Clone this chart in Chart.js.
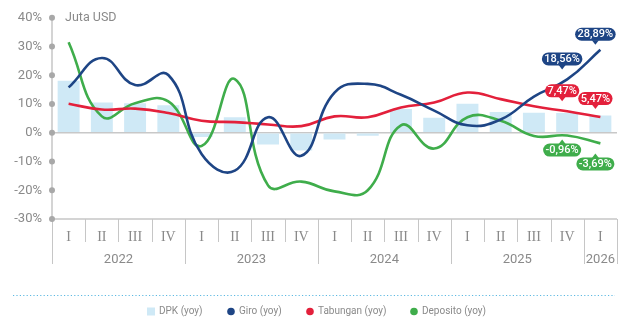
<!DOCTYPE html>
<html>
<head>
<meta charset="utf-8">
<script src="https://cdn.jsdelivr.net/npm/chart.js@4/dist/chart.umd.min.js"></script>
<style>
  html, body { margin: 0; padding: 0; background: #fff; }
  #wrap { width: 620px; height: 320px; }
</style>
</head>
<body>
<div id="wrap"><canvas id="c" width="620" height="320"></canvas></div>
<script>
// Quarterly year-on-year growth, in percent
const quarters = ['I','II','III','IV','I','II','III','IV','I','II','III','IV','I','II','III','IV','I'];
const yearLabels = ['2022','2023','2024','2025','2026'];
const yearSpans = [4, 4, 4, 4, 1];
const yTicks = [40, 30, 20, 10, 0, -10, -20, -30];

const dpk      = [18.1, 10.5, 10.3, 9.6, -1.5, 5.4, -4.1, -6.2, -2.3, -1.0, 8.3, 5.2, 10.1, 7.2, 7.0, 6.9, 6.0];
const giro     = [15.8, 26.0, 16.6, 20.1, -7.4, -13.2, 5.4, -8.0, 14.0, 17.0, 13.2, 7.7, 2.6, 4.6, 12.6, 18.56, 28.89];
const tabungan = [10.1, 8.1, 8.4, 6.9, 4.2, 3.7, 2.9, 2.3, 5.7, 5.4, 8.8, 10.5, 14.0, 11.7, 9.2, 7.47, 5.47];
const deposito = [31.5, 5.7, 10.3, 10.9, -4.6, 18.7, -18.3, -17.0, -20.4, -20.0, 2.6, -5.5, 5.4, 4.2, -1.1, -0.96, -3.69];

const SANS = "Roboto,'Liberation Sans',sans-serif";
const SERIF = "'Liberation Serif','DejaVu Serif',serif";
const GREY_TEXT = '#8a8a8a';
const AXIS = '#c6c6c6';
const C_DPK = '#cfe9f6', C_GIRO = '#1e4585', C_TAB = '#e3203b', C_DEP = '#3fad4b';

// value tags on the last two quarters: [datasetIndex, above?, gap for each point]
const tagSpecs = [
  { ds: 1, above: true,  gaps: [10, 5] },
  { ds: 2, above: true,  gaps: [10, 8] },
  { ds: 3, above: false, gaps: [4, 10] }
];

function fmtPct(v) { return v.toFixed(2).replace('.', ',') + '%'; }

function roundRect(ctx, x, y, w, h, r) {
  ctx.beginPath();
  ctx.moveTo(x + r, y);
  ctx.lineTo(x + w - r, y);
  ctx.arcTo(x + w, y, x + w, y + r, r);
  ctx.lineTo(x + w, y + h - r);
  ctx.arcTo(x + w, y + h, x + w - r, y + h, r);
  ctx.lineTo(x + r, y + h);
  ctx.arcTo(x, y + h, x, y + h - r, r);
  ctx.lineTo(x, y + r);
  ctx.arcTo(x, y, x + r, y, r);
  ctx.closePath();
}

function drawTag(ctx, cx, tipY, text, color, above) {
  ctx.font = '500 11px ' + SANS;
  const w = ctx.measureText(text).width + 5, h = 13;
  const boxY = above ? tipY - 4 - h : tipY + 4;
  ctx.fillStyle = color;
  roundRect(ctx, cx - w / 2, boxY, w, h, 6.5);
  ctx.fill();
  ctx.beginPath();
  if (above) {
    ctx.moveTo(cx - 3.5, boxY + h - 0.5);
    ctx.lineTo(cx + 3.5, boxY + h - 0.5);
  } else {
    ctx.moveTo(cx - 3.5, boxY + 0.5);
    ctx.lineTo(cx + 3.5, boxY + 0.5);
  }
  ctx.lineTo(cx, tipY);
  ctx.closePath();
  ctx.fill();
  ctx.fillStyle = '#fff';
  ctx.textAlign = 'center';
  ctx.textBaseline = 'middle';
  ctx.fillText(text, cx, boxY + h / 2 + 0.5);
}

const decor = {
  id: 'decor',
  beforeDatasetsDraw(chart) {
    const ctx = chart.ctx, xs = chart.scales.x, ys = chart.scales.y, a = chart.chartArea;
    ctx.save();
    ctx.strokeStyle = AXIS;
    ctx.lineWidth = 1.5;
    // bottom edge of plot
    ctx.beginPath();
    ctx.moveTo(a.left, a.bottom);
    ctx.lineTo(a.right, a.bottom);
    ctx.stroke();
    // category separators, deeper at year boundaries
    const step = xs.getPixelForValue(1) - xs.getPixelForValue(0);
    const yearBounds = [0];
    yearSpans.forEach(s => yearBounds.push(yearBounds[yearBounds.length - 1] + s));
    ctx.lineWidth = 1;
    for (let k = 0; k <= quarters.length; k++) {
      const px = Math.round(xs.getPixelForValue(0) - step / 2 + k * step) + 0.5;
      const deep = yearBounds.includes(k);
      ctx.beginPath();
      ctx.moveTo(px, a.bottom);
      ctx.lineTo(px, a.bottom + (deep ? 45 : 23));
      ctx.stroke();
    }
    // vertical axis
    ctx.lineWidth = 1.5;
    ctx.beginPath();
    ctx.moveTo(a.left, ys.getPixelForValue(40));
    ctx.lineTo(a.left, a.bottom);
    ctx.stroke();
    // tick dots
    ctx.fillStyle = '#a8a8a8';
    yTicks.forEach(v => {
      ctx.beginPath();
      ctx.arc(a.left, ys.getPixelForValue(v), 3, 0, Math.PI * 2);
      ctx.fill();
    });
    // quarter labels
    ctx.fillStyle = GREY_TEXT;
    ctx.textAlign = 'center';
    ctx.textBaseline = 'middle';
    ctx.font = '14px ' + SERIF;
    quarters.forEach((q, i) => ctx.fillText(q, xs.getPixelForValue(i), a.bottom + 18));
    // year labels
    ctx.font = '13px ' + SANS;
    yearLabels.forEach((yl, j) => {
      const first = yearBounds[j], last = yearBounds[j + 1] - 1;
      const cx = (xs.getPixelForValue(first) + xs.getPixelForValue(last)) / 2;
      ctx.fillText(yl, cx, a.bottom + 41);
    });
    // unit caption
    ctx.textAlign = 'left';
    ctx.font = '12.5px ' + SANS;
    ctx.fillText('Juta USD', a.left + 13, ys.getPixelForValue(40));
    ctx.restore();
  },
  afterDatasetsDraw(chart) {
    const ctx = chart.ctx;
    ctx.save();
    tagSpecs.forEach(spec => {
      const meta = chart.getDatasetMeta(spec.ds);
      const ds = chart.data.datasets[spec.ds];
      const n = ds.data.length;
      [n - 2, n - 1].forEach((idx, j) => {
        const pt = meta.data[idx];
        const tipY = spec.above ? pt.y - spec.gaps[j] : pt.y + spec.gaps[j];
        drawTag(ctx, pt.x - 5, tipY, fmtPct(ds.data[idx]), ds.borderColor, spec.above);
      });
    });
    ctx.restore();
  },
  afterDraw(chart) {
    const ctx = chart.ctx;
    ctx.save();
    // dotted rule above legend
    ctx.strokeStyle = '#5db9e2';
    ctx.lineWidth = 1;
    ctx.setLineDash([1.2, 2.2]);
    ctx.beginPath();
    ctx.moveTo(13, 295.5);
    ctx.lineTo(615, 295.5);
    ctx.stroke();
    ctx.setLineDash([]);
    // legend
    const ly = 311.5;
    ctx.font = '10px ' + SANS;
    ctx.textAlign = 'left';
    ctx.textBaseline = 'middle';
    const items = chart.data.datasets.map((d, i) => ({
      label: d.label,
      color: i === 0 ? d.backgroundColor : d.borderColor,
      square: i === 0
    }));
    const xs = [147, 227, 306, 410];
    items.forEach((it, i) => {
      ctx.fillStyle = it.color;
      if (it.square) {
        ctx.fillRect(xs[i], ly - 4, 8, 8);
      } else {
        ctx.beginPath();
        ctx.arc(xs[i] + 4, ly, 3.8, 0, Math.PI * 2);
        ctx.fill();
      }
      ctx.fillStyle = GREY_TEXT;
      ctx.fillText(it.label, xs[i] + 12, ly);
    });
    ctx.restore();
  }
};

const lineStyle = (color) => ({
  type: 'line',
  borderColor: color,
  backgroundColor: color,
  borderWidth: 2.6,
  pointRadius: 0,
  tension: 0.45,
  fill: false
});

new Chart(document.getElementById('c'), {
  type: 'bar',
  data: {
    labels: quarters,
    datasets: [
      { type: 'bar', label: 'DPK (yoy)', data: dpk, backgroundColor: C_DPK, barPercentage: 0.66, categoryPercentage: 1, order: 5 },
      Object.assign({ label: 'Giro (yoy)', data: giro, order: 1 }, lineStyle(C_GIRO)),
      Object.assign({ label: 'Tabungan (yoy)', data: tabungan, order: 2 }, lineStyle(C_TAB)),
      Object.assign({ label: 'Deposito (yoy)', data: deposito, order: 3 }, lineStyle(C_DEP))
    ]
  },
  options: {
    responsive: false,
    animation: false,
    layout: { padding: { top: 16, right: 3, left: 0, bottom: 0 } },
    plugins: { legend: { display: false }, tooltip: { enabled: false } },
    scales: {
      x: {
        offset: true,
        grid: { display: false },
        border: { display: false },
        ticks: { display: false },
        afterFit(s) { s.height = 101; }
      },
      y: {
        min: -30,
        max: 40,
        ticks: {
          stepSize: 10,
          padding: 10,
          color: GREY_TEXT,
          font: { family: SANS, size: 13 },
          callback: v => v + '%'
        },
        grid: {
          drawTicks: false,
          color: c => (c.tick && c.tick.value === 0 ? '#c8c8c8' : 'rgba(0,0,0,0)'),
          lineWidth: 1.5
        },
        border: { display: false },
        afterFit(s) { s.width = 52; }
      }
    }
  },
  plugins: [decor]
});
</script>
</body>
</html>
